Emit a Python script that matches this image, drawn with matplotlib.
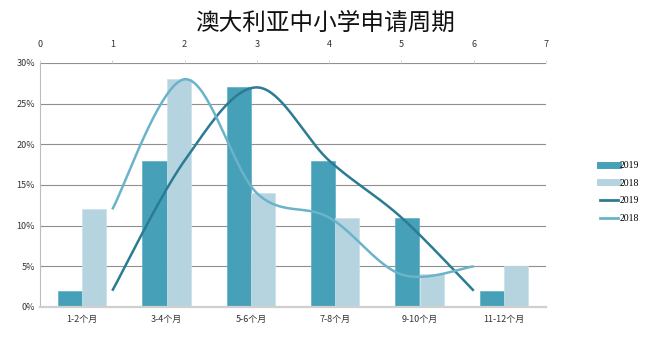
import numpy as np
import matplotlib
matplotlib.use("Agg")
import matplotlib.pyplot as plt
from matplotlib.lines import Line2D

plt.rcParams['font.family'] = ['Noto Sans CJK SC', 'DejaVu Sans']

categories = ["1-2个月", "3-4个月", "5-6个月", "7-8个月", "9-10个月", "11-12个月"]
bar_2019 = [2, 18, 27, 18, 11, 2]
bar_2018 = [12, 28, 14, 11, 4, 5]
line_x = [1, 2, 3, 4, 5, 6]
line_2019 = [2, 18, 27, 18, 11, 2]
line_2018 = [12, 28, 14, 11, 4, 5]
y_ticks = [0, 5, 10, 15, 20, 25, 30]
top_ticks = [0, 1, 2, 3, 4, 5, 6, 7]

c19_bar = "#46A0B8"
c18_bar = "#B5D4E0"
c19_line = "#2B7C92"
c18_line = "#6BB3CA"


def smooth(xs, ys, n=40):
    xs = np.asarray(xs, float); ys = np.asarray(ys, float)
    P = np.column_stack([xs, ys])
    Pext = np.vstack([P[0], P, P[-1]])
    out = []
    t = np.linspace(0, 1, n)[:, None]
    for i in range(len(P) - 1):
        p0, p1, p2, p3 = Pext[i], Pext[i + 1], Pext[i + 2], Pext[i + 3]
        c1 = p1 + (p2 - p0) / 6
        c2 = p2 - (p3 - p1) / 6
        seg = ((1 - t) ** 3) * p1 + 3 * ((1 - t) ** 2) * t * c1 + 3 * (1 - t) * t ** 2 * c2 + t ** 3 * p2
        out.append(seg if i == 0 else seg[1:])
    out = np.vstack(out)
    return out[:, 0], out[:, 1]


fig = plt.figure(figsize=(6.5, 3.37), dpi=100)
ax = fig.add_axes([40 / 650, 30 / 337, 506 / 650, 244 / 337])

idx = np.arange(len(categories))
w = 0.285
ax.bar(idx - w / 2, bar_2019, width=w, color=c19_bar, edgecolor="#5FB0C4", linewidth=0.5, zorder=2)
ax.bar(idx + w / 2, bar_2018, width=w, color=c18_bar, edgecolor="#C8E0E8", linewidth=0.5, zorder=2)
ax.set_xlim(-0.5, len(categories) - 0.5)
ax.set_ylim(0, 30)
ax.set_yticks(y_ticks)
ax.set_yticklabels([f"{v}%" for v in y_ticks])
ax.set_xticks(idx)
ax.set_xticklabels(categories)
ax.tick_params(axis='both', length=0, labelsize=6.5, colors="#333333")
ax.tick_params(axis='x', pad=6)
ax.yaxis.grid(True, color="#8f8f8f", linewidth=0.8, zorder=0)
ax.set_axisbelow(True)
for s in ["top", "right"]:
    ax.spines[s].set_visible(False)
ax.spines["left"].set_color("#bdbdbd")
ax.spines["left"].set_linewidth(0.8)
ax.spines["bottom"].set_color("#cfcfcf")
ax.spines["bottom"].set_linewidth(1.6)

ax2 = ax.twiny()
sx, sy = smooth(line_x, line_2019)
ax2.plot(sx, sy, color=c19_line, linewidth=1.8, zorder=3, solid_capstyle='butt')
sx, sy = smooth(line_x, line_2018)
ax2.plot(sx, sy, color=c18_line, linewidth=1.8, zorder=3, solid_capstyle='butt')
ax2.set_xlim(0, 7)
ax2.set_ylim(0, 30)
ax2.set_xticks(top_ticks)
ax2.tick_params(axis='x', length=2, width=0.6, color="#cccccc", labelsize=6.5, labelcolor="#333333", pad=8)
for s in ["top", "right", "left", "bottom"]:
    ax2.spines[s].set_visible(False)

fig.text(0.5, 0.93, "澳大利亚中小学申请周期", ha="center", va="center", fontsize=17,
         color="#111111", fontweight="light")

handles = [
    Line2D([0], [0], color=c19_bar, linewidth=5),
    Line2D([0], [0], color=c18_bar, linewidth=5),
    Line2D([0], [0], color=c19_line, linewidth=2),
    Line2D([0], [0], color=c18_line, linewidth=2),
]
labels = ["2019", "2018", "2019", "2018"]
fig.legend(handles, labels, loc="center left", bbox_to_anchor=(0.91, 0.43), frameon=False,
           handlelength=1.8, handletextpad=0.15, labelspacing=0.9,
           prop={'family': ['Liberation Serif'], 'size': 7})

fig.savefig("out.png", dpi=100)
